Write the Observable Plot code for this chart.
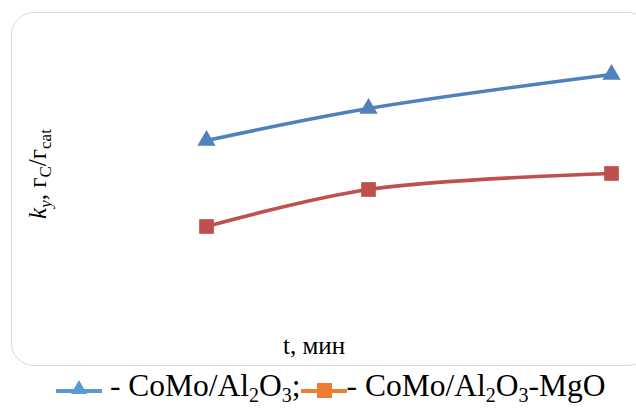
<!DOCTYPE html>
<html>
<head>
<meta charset="utf-8">
<script src="https://cdn.jsdelivr.net/npm/d3@7"></script>
<script src="https://cdn.jsdelivr.net/npm/@observablehq/plot@0.6"></script>
<style>
  html, body { margin: 0; padding: 0; background: #fff; }
  #wrap { position: relative; width: 636px; height: 410px; overflow: hidden; font-family: "Liberation Serif", "Times New Roman", serif; color: #000; }
  #box { position: absolute; left: 11px; top: 12px; width: 640px; height: 354px; border: 1.5px solid #d9d9d9; border-radius: 23px; box-sizing: border-box; }
  #chart { position: absolute; left: 0; top: 0; }
  #xlabel { position: absolute; left: 283px; top: 332px; font-size: 25px; white-space: nowrap; }
  #ylabel { position: absolute; left: 40px; top: 174px; transform: translate(-50%, -50%) rotate(-90deg); white-space: nowrap; font-size: 25px; }
  #ylabel sub { font-size: 17px; vertical-align: -5px; }
  #legend { position: absolute; left: 56px; top: 368px; display: flex; align-items: center; font-size: 31.5px; white-space: nowrap; }
  #legend sub { font-size: 20px; vertical-align: -6px; }
  #legend svg { display: block; }
</style>
</head>
<body>
<div id="wrap">
  <div id="box"></div>
  <div id="chart"></div>
  <div id="xlabel">t, мин</div>
  <div id="ylabel"><i>k</i><sub><i>y</i></sub>, г<sub>C</sub>/г<sub>cat</sub></div>
  <div id="legend"></div>
</div>
<script>
const times = [20, 40, 70];
const seriesNames = ["CoMo/Al2O3", "CoMo/Al2O3-MgO"];
const valuesAl = [2.00, 2.32, 2.66];
const valuesMg = [1.14, 1.51, 1.67];
const lineColors = ["#4F81BD", "#C0504D"];
const legendColors = ["#5B9BD5", "#ED7D31"];

const rowsAl = times.map((t, i) => ({t, v: valuesAl[i], s: seriesNames[0]}));
const rowsMg = times.map((t, i) => ({t, v: valuesMg[i], s: seriesNames[1]}));

const chart = Plot.plot({
  width: 636,
  height: 366,
  margin: 0,
  x: {domain: [20, 70], range: [206, 611], axis: null},
  y: {domain: [0, 3], range: [340, 40], axis: null},
  marks: [
    Plot.line(rowsAl, {x: "t", y: "v", stroke: lineColors[0], strokeWidth: 3.6, curve: "catmull-rom"}),
    Plot.line(rowsMg, {x: "t", y: "v", stroke: lineColors[1], strokeWidth: 3.6, curve: "catmull-rom"}),
    Plot.dot(rowsAl, {x: "t", y: "v", symbol: "triangle", r: 6.8, fill: lineColors[0], stroke: "none"}),
    Plot.dot(rowsMg, {x: "t", y: "v", symbol: "square", r: 8.3, fill: lineColors[1], stroke: "none"})
  ]
});
chart.style.background = "transparent";
document.getElementById("chart").appendChild(chart);

function swatch(color, kind) {
  const ns = "http://www.w3.org/2000/svg";
  const svg = document.createElementNS(ns, "svg");
  svg.setAttribute("width", 46); svg.setAttribute("height", 22);
  const line = document.createElementNS(ns, "line");
  line.setAttribute("x1", 0); line.setAttribute("x2", 46);
  line.setAttribute("y1", 14); line.setAttribute("y2", 14);
  line.setAttribute("stroke", color); line.setAttribute("stroke-width", 4);
  svg.appendChild(line);
  if (kind === "triangle") {
    const p = document.createElementNS(ns, "path");
    p.setAttribute("d", "M23,3 L31,17 L15,17 Z");
    p.setAttribute("fill", color);
    svg.appendChild(p);
  } else {
    const r = document.createElementNS(ns, "rect");
    r.setAttribute("x", 16); r.setAttribute("y", 6);
    r.setAttribute("width", 15); r.setAttribute("height", 15);
    r.setAttribute("fill", color);
    svg.appendChild(r);
  }
  return svg;
}
function label(text) {
  const span = document.createElement("span");
  span.innerHTML = text.replace(/(\d)/g, "<sub>$1</sub>");
  return span;
}
const legend = document.getElementById("legend");
legend.appendChild(swatch(legendColors[0], "triangle"));
legend.appendChild(label("\u00a0- " + seriesNames[0] + ";"));
legend.appendChild(swatch(legendColors[1], "square"));
legend.appendChild(label("- " + seriesNames[1]));
</script>
</body>
</html>
